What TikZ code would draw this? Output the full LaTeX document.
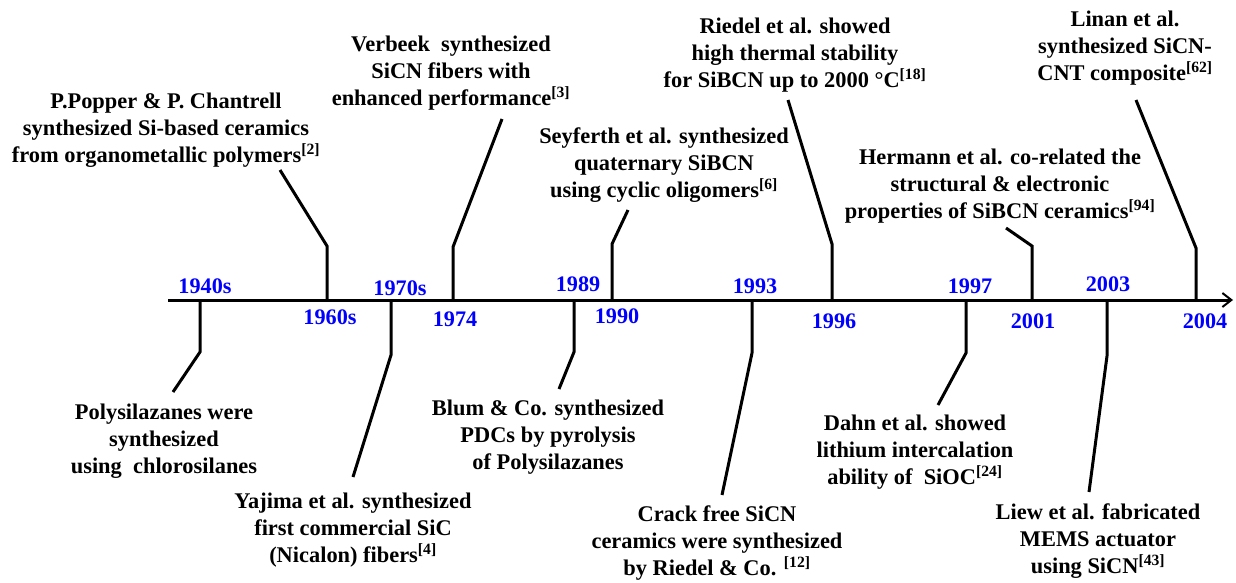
\documentclass[tikz,border=0pt]{standalone}
\usepackage{fontspec}
\setmainfont{Liberation Serif}[BoldFont={Liberation Serif Bold}]
\usetikzlibrary{arrows.meta}
\newlength{\du}
\setlength{\du}{1pt}
\tikzset{
  event/.style={align=center,font=\fontsize{22.4}{27}\selectfont\rmfamily\bfseries,inner sep=0pt},
  year/.style={font=\fontsize{22.2}{26}\selectfont\rmfamily\bfseries,text=yearblue,inner sep=0pt},
  stem/.style={line width=3\du,line join=miter},
}
\definecolor{yearblue}{rgb}{0.0,0.0,1.0}
\newcommand{\rf}[1]{\textsuperscript{[#1]}}
\begin{document}
\begin{tikzpicture}
\pgftransformxscale{1.000000}
\pgftransformyscale{-1.000000}
\useasboundingbox (0\du,0\du) rectangle (1236\du,582\du);
% axis
\coordinate (start) at (168\du,300\du);
\coordinate (stop) at (1233\du,300\du);
\draw[line width=3\du,-{Straight Barb[length=9pt,width=14pt,line width=2pt]}] (start) -- (stop);
% tick points on the axis
\coordinate (t40) at (200\du,300\du);
\coordinate (t60) at (327\du,300\du);
\coordinate (t70) at (391\du,300\du);
\coordinate (t74) at (453\du,300\du);
\coordinate (t89) at (574\du,300\du);
\coordinate (t90) at (612\du,300\du);
\coordinate (t93) at (752\du,300\du);
\coordinate (t96) at (832\du,300\du);
\coordinate (t97) at (966\du,300\du);
\coordinate (t01) at (1032\du,300\du);
\coordinate (t03) at (1107\du,300\du);
\coordinate (t04) at (1196\du,300\du);
% years above
\node[year] (y40) at (205\du,286\du){1940s};
\node[year] (y70) at (400\du,288\du){1970s};
\node[year] (y89) at (578\du,284\du){1989};
\node[year] (y93) at (755\du,286\du){1993};
\node[year] (y97) at (970\du,286\du){1997};
\node[year] (y03) at (1108\du,284\du){2003};
% years below
\node[year] (y60) at (330\du,317\du){1960s};
\node[year] (y74) at (455\du,319\du){1974};
\node[year] (y90) at (617\du,316\du){1990};
\node[year] (y96) at (834\du,321\du){1996};
\node[year] (y01) at (1033\du,321\du){2001};
\node[year] (y04) at (1205\du,321\du){2004};
% events above
\node[event] (popper) at (166\du,130\du){P.Popper \& P. Chantrell\\synthesized Si-based ceramics\\from organometallic polymers\rf{2}};
\node[event] (verbeek) at (451\du,73\du){Verbeek\ \ synthesized\\SiCN fibers with\\enhanced performance\rf{3}};
\node[event] (seyferth) at (664\du,165\du){Seyferth et al. synthesized\\quaternary SiBCN\\using cyclic oligomers\rf{6}};
\node[event] (riedel) at (795\du,55\du){Riedel et al. showed\\high thermal stability\\for SiBCN up to 2000 °C\rf{18}};
\node[event] (hermann) at (1000\du,186\du){Hermann et al. co-related the\\structural \& electronic\\properties of SiBCN ceramics\rf{94}};
\node[event] (linan) at (1125\du,48\du){Linan et al.\\synthesized SiCN-\\CNT composite\rf{62}};
% events below
\node[event] (polysil) at (164\du,441\du){Polysilazanes were\\synthesized\\using\ \ chlorosilanes};
\node[event] (yajima) at (353\du,530\du){Yajima et al. synthesized\\first commercial SiC\\(Nicalon) fibers\rf{4}};
\node[event] (blum) at (548\du,437\du){Blum \& Co. synthesized\\PDCs by pyrolysis\\of Polysilazanes};
\node[event] (crack) at (717\du,543\du){Crack free SiCN\\ceramics were synthesized\\by Riedel \& Co. \rf{12}};
\node[event] (dahn) at (915\du,452\du){Dahn et al. showed\\lithium intercalation\\ability of\ \ SiOC\rf{24}};
\node[event] (liew) at (1098\du,541\du){Liew et al. fabricated\\MEMS actuator\\using SiCN\rf{43}};
% bends and free ends of the stems
\coordinate (e60) at (280\du,170\du);
\coordinate (e74) at (502\du,119\du);
\coordinate (e90) at (628\du,210\du);
\coordinate (e96) at (788\du,100\du);
\coordinate (e01) at (1006\du,228\du);
\coordinate (e04) at (1136\du,100\du);
\coordinate (e40) at (173\du,392\du);
\coordinate (e70) at (353\du,477\du);
\coordinate (e89) at (559\du,389\du);
\coordinate (e93) at (722\du,495\du);
\coordinate (e97) at (938\du,405\du);
\coordinate (e03) at (1089\du,492\du);
% stems up
\draw[stem] (t60) -- ++(0\du,-54\du) -- (e60);
\draw[stem] (t74) -- ++(0\du,-53\du) -- (e74);
\draw[stem] (t90) -- ++(0\du,-56\du) -- (e90);
\draw[stem] (t96) -- ++(0\du,-56\du) -- (e96);
\draw[stem] (t01) -- ++(0\du,-54\du) -- (e01);
\draw[stem] (t04) -- ++(0\du,-52\du) -- (e04);
% stems down
\draw[stem] (t40) -- ++(0\du,52\du) -- (e40);
\draw[stem] (t70) -- ++(0\du,55\du) -- (e70);
\draw[stem] (t89) -- ++(0\du,52\du) -- (e89);
\draw[stem] (t93) -- ++(0\du,53\du) -- (e93);
\draw[stem] (t97) -- ++(0\du,53\du) -- (e97);
\draw[stem] (t03) -- ++(0\du,56\du) -- (e03);
\end{tikzpicture}
\end{document}
